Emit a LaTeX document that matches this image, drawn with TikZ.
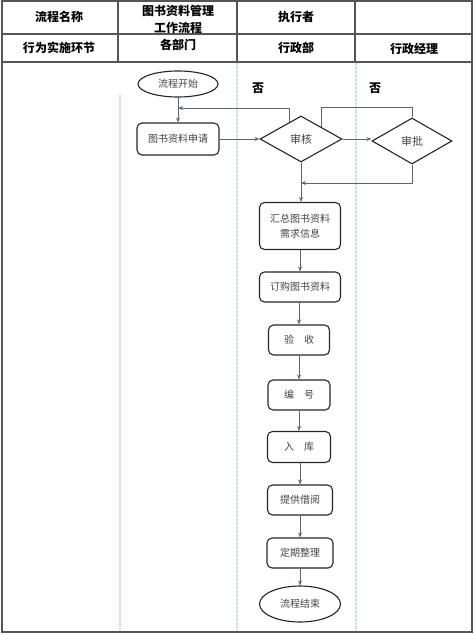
\documentclass[tikz,border=0pt]{standalone}
\usepackage{fontspec}
\newfontfamily\cjk{Noto Sans CJK SC}
\usetikzlibrary{shapes.geometric,arrows.meta,calc}
\definecolor{gridc}{HTML}{555555}
\definecolor{lanec}{HTML}{C9DFEA}
\definecolor{arrc}{HTML}{5C6478}
\definecolor{txtc}{HTML}{444444}
\tikzset{
  hdr/.style={font=\cjk\bfseries\fontsize{12}{17}\selectfont, align=center, text=black},
  box/.style={draw=black!85, line width=1.1pt, rounded corners=5pt, inner sep=0pt,
    font=\cjk\fontsize{10}{15}\selectfont, text=txtc, align=center},
  oval/.style={draw=black!85, line width=1.1pt, ellipse, inner sep=0pt,
    font=\cjk\fontsize{10}{14}\selectfont, text=txtc},
  dia/.style={draw=black!85, line width=1.1pt, diamond, inner sep=0pt,
    font=\cjk\fontsize{11}{14}\selectfont, text=txtc},
  arr/.style={draw=arrc, line width=0.9pt, -{Stealth[length=5pt,width=4pt]}},
  ln/.style={draw=arrc, line width=0.9pt},
  lane/.style={draw=lanec, line width=1.2pt, dash pattern=on 3pt off 1pt},
  tbl/.style={draw=gridc, line width=1.3pt},
  no/.style={font=\cjk\bfseries\fontsize{12}{14}\selectfont}
}
\begin{document}
\begin{tikzpicture}[x=1pt,y=-1pt]
\useasboundingbox (0,0) rectangle (474,634);
\fill[white] (0,0) rectangle (474,634);
% lanes
\draw[lane] (120,95) -- (120,631);
\draw[lane] (237,62) -- (237,631);
\draw[lane] (356,62) -- (356,631);
% table
\draw[tbl, line width=1.8pt] (2,1) rectangle (472,632);
\draw[tbl] (2,34) -- (472,34);
\draw[tbl] (2,62) -- (472,62);
\draw[tbl] (118,1) -- (118,62);
\draw[tbl] (237,1) -- (237,62);
\draw[tbl] (355,1) -- (355,62);
% header text
\node[hdr] (h1) at (59,17) {流程名称};
\node[hdr] (h2) at (178,19) {图书资料管理\\工作流程};
\node[hdr] (h3) at (296,17) {执行者};
\node[hdr] (h4) at (59,48) {行为实施环节};
\node[hdr] (h5) at (178,45) {各部门};
\node[hdr] (h6) at (296,48) {行政部};
\node[hdr] (h7) at (414,49) {行政经理};
% nodes
\node[oval, minimum width=80pt, minimum height=26pt] (start) at (178,84) {流程开始};
\node[box, minimum width=82pt, minimum height=32pt] (apply) at (178,139) {图书资料申请};
\node[dia, minimum width=82pt, minimum height=46pt] (audit) at (301,139) {审核};
\node[dia, minimum width=80pt, minimum height=46pt] (approve) at (412,141) {审批};
\node[box, minimum width=81pt, minimum height=47pt] (sum) at (300,226) {汇总图书资料\\需求信息};
\node[box, minimum width=81pt, minimum height=30pt] (buy) at (300,287) {订购图书资料};
\node[box, minimum width=61pt, minimum height=30pt] (check) at (299,340) {验\quad 收};
\node[box, minimum width=62pt, minimum height=30pt] (num) at (299,395) {编\quad 号};
\node[box, minimum width=63pt, minimum height=31pt] (store) at (299,447) {入\quad 库};
\node[box, minimum width=65pt, minimum height=30pt] (lend) at (300,500) {提供借阅};
\node[box, minimum width=66pt, minimum height=30pt] (tidy) at (300,553) {定期整理};
\node[oval, minimum width=81pt, minimum height=36pt] (end) at (300,604) {流程结束};
\node[no] (no1) at (258,88) {否};
\node[no] (no2) at (375,88) {否};
% connectors
\coordinate (j1) at (178,108);
\coordinate (j2) at (301,183);
\coordinate (p1) at ($(audit.west)!0.73!(audit.north)$);
\coordinate (p2) at ($(audit.north)!0.5!(audit.east)$);
\draw[arr] (start.south -| apply.north) -- (apply.north);
\draw[arr] (p1) |- (j1);
\draw[arr] (apply.east) -- (audit.west);
\draw[arr] (audit.east) -- (approve.west |- audit.east);
\draw[ln] (approve.north) -- ++(0,-10) -| (p2);
\draw[arr] (approve.south) |- (j2);
\draw[arr] (audit.south) -- (audit.south |- sum.north);
\draw[arr] (sum.south) -- (buy.north);
\draw[arr] (buy.south -| check.north) -- (check.north);
\draw[arr] (check.south) -- (num.north);
\draw[arr] (num.south) -- (store.north);
\draw[arr] (store.south -| lend.north) -- (lend.north);
\draw[arr] (lend.south) -- (tidy.north);
\draw[arr] (tidy.south) -- (end.north);
\end{tikzpicture}
\end{document}
